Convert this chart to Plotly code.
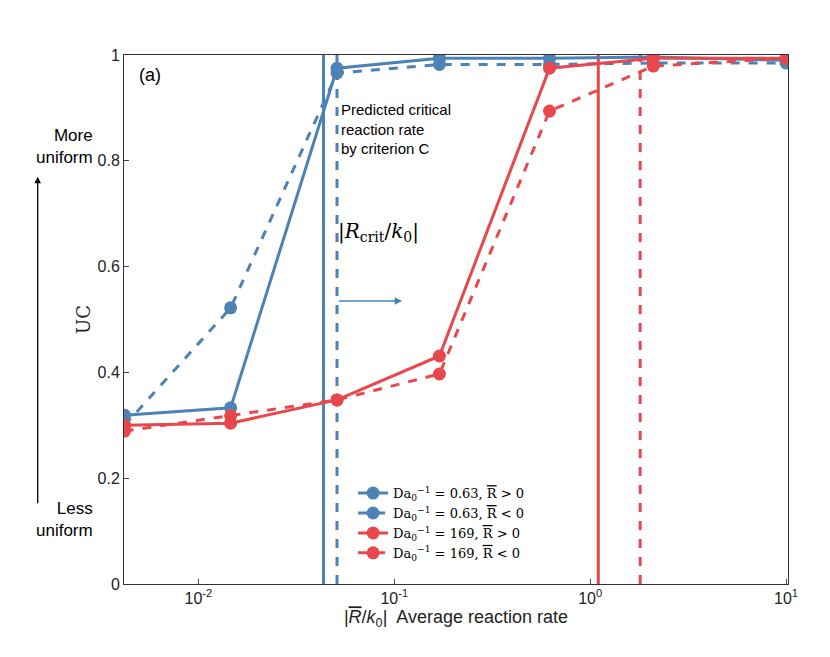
import plotly.graph_objects as go

BLUE = '#4d82b4'
RED = '#e8474b'

x_pts = [0.0042, 0.0146, 0.051, 0.17, 0.62, 2.1, 10.0]
uc_blue_pos = [0.319, 0.333, 0.975, 0.994, 0.994, 0.996, 0.99]
uc_blue_neg = [0.30, 0.522, 0.966, 0.982, 0.982, 0.985, 0.985]
uc_red_pos = [0.30, 0.304, 0.348, 0.431, 0.975, 0.994, 0.994]
uc_red_neg = [0.289, 0.318, 0.348, 0.397, 0.894, 0.979, 0.994]

crit_blue_pos = 0.0435
crit_blue_neg = 0.051
crit_red_pos = 1.1
crit_red_neg = 1.8

series = [
    (uc_blue_pos, BLUE, 'solid', 'Da<sub>0</sub><sup>−1</sup> = 0.63, <span style="text-decoration:overline">R</span> > 0'),
    (uc_blue_neg, BLUE, 'dash', 'Da<sub>0</sub><sup>−1</sup> = 0.63, <span style="text-decoration:overline">R</span> < 0'),
    (uc_red_pos, RED, 'solid', 'Da<sub>0</sub><sup>−1</sup> = 169, <span style="text-decoration:overline">R</span> > 0'),
    (uc_red_neg, RED, 'dash', 'Da<sub>0</sub><sup>−1</sup> = 169, <span style="text-decoration:overline">R</span> < 0'),
]

fig = go.Figure()
for xv, col, dash in [(crit_blue_pos, BLUE, 'solid'), (crit_blue_neg, BLUE, 'dash'),
                      (crit_red_pos, RED, 'solid'), (crit_red_neg, RED, 'dash')]:
    fig.add_scatter(x=[xv, xv], y=[0, 1], mode='lines', showlegend=False,
                    line=dict(color=col, width=3, dash=dash), hoverinfo='skip')

for ys, col, dash, name in series:
    fig.add_scatter(x=x_pts, y=ys, mode='lines+markers', name=name,
                    line=dict(color=col, width=3, dash=dash),
                    marker=dict(size=13, color=col))

fig.add_annotation(x=-1.28, y=0.86, xref='x', yref='y', text='Predicted critical<br>reaction rate<br>by criterion C',
                   showarrow=False, xanchor='left', align='left', font=dict(size=15, color='black'))
fig.add_annotation(x=-1.3, y=0.665, xref='x', yref='y', text='|<i>R</i><sub>crit</sub>/<i>k</i><sub>0</sub>|',
                   showarrow=False, xanchor='left', font=dict(size=20, family='DejaVu Serif', color='black'))
fig.add_annotation(x=-0.96, y=0.535, ax=-1.29, ay=0.535, xref='x', yref='y', axref='x', ayref='y',
                   text='', showarrow=True, arrowhead=2, arrowcolor=BLUE, arrowwidth=1.5)

fig.add_annotation(x=0.02, y=0.985, xref='paper', yref='paper', text='(a)', showarrow=False,
                   font=dict(size=18, color='black'))
fig.add_annotation(x=-0.09, y=0.87, xref='paper', yref='paper', text='More<br>uniform', showarrow=False,
                   font=dict(size=17, color='black'), align='right', xanchor='center')
fig.add_annotation(x=-0.09, y=0.08, xref='paper', yref='paper', text='Less<br>uniform', showarrow=False,
                   font=dict(size=17, color='black'), align='right', xanchor='center')
fig.add_annotation(x=-0.13, y=0.77, ax=0, ay=328, xref='paper', yref='paper',
                   text='', showarrow=True, arrowhead=2, arrowwidth=1.3, arrowcolor='black')

fig.update_layout(
    width=830, height=657,
    paper_bgcolor='white', plot_bgcolor='white',
    margin=dict(l=116, r=50, t=47, b=81),
    font=dict(family='Arial, Liberation Sans', size=16, color='#222'),
    xaxis=dict(type='log', range=[-2.38, 1.01], showgrid=False, mirror=True, showline=True,
               linecolor='#333', linewidth=1, ticks='inside', tickvals=[0.01, 0.1, 1, 10],
               ticktext=['10<sup>-2</sup>', '10<sup>-1</sup>', '10<sup>0</sup>', '10<sup>1</sup>'],
               title=dict(text='|<span style="text-decoration:overline"><i>R</i></span>/<i>k</i><sub>0</sub>|  Average reaction rate',
                          standoff=4, font=dict(size=18))),
    yaxis=dict(range=[0, 1], showgrid=False, mirror=True, showline=True, linecolor='#333', linewidth=1,
               ticks='inside', tickvals=[0, 0.2, 0.4, 0.6, 0.8, 1],
               ticktext=['0', '0.2', '0.4', '0.6', '0.8', '1'],
               title=dict(text='UC', font=dict(family='DejaVu Serif', size=18), standoff=2)),
    legend=dict(x=0.345, y=0.03, xanchor='left', yanchor='bottom', bgcolor='white',
                font=dict(family='DejaVu Serif', size=13, color='black')),
)
fig.write_html("out.html")
